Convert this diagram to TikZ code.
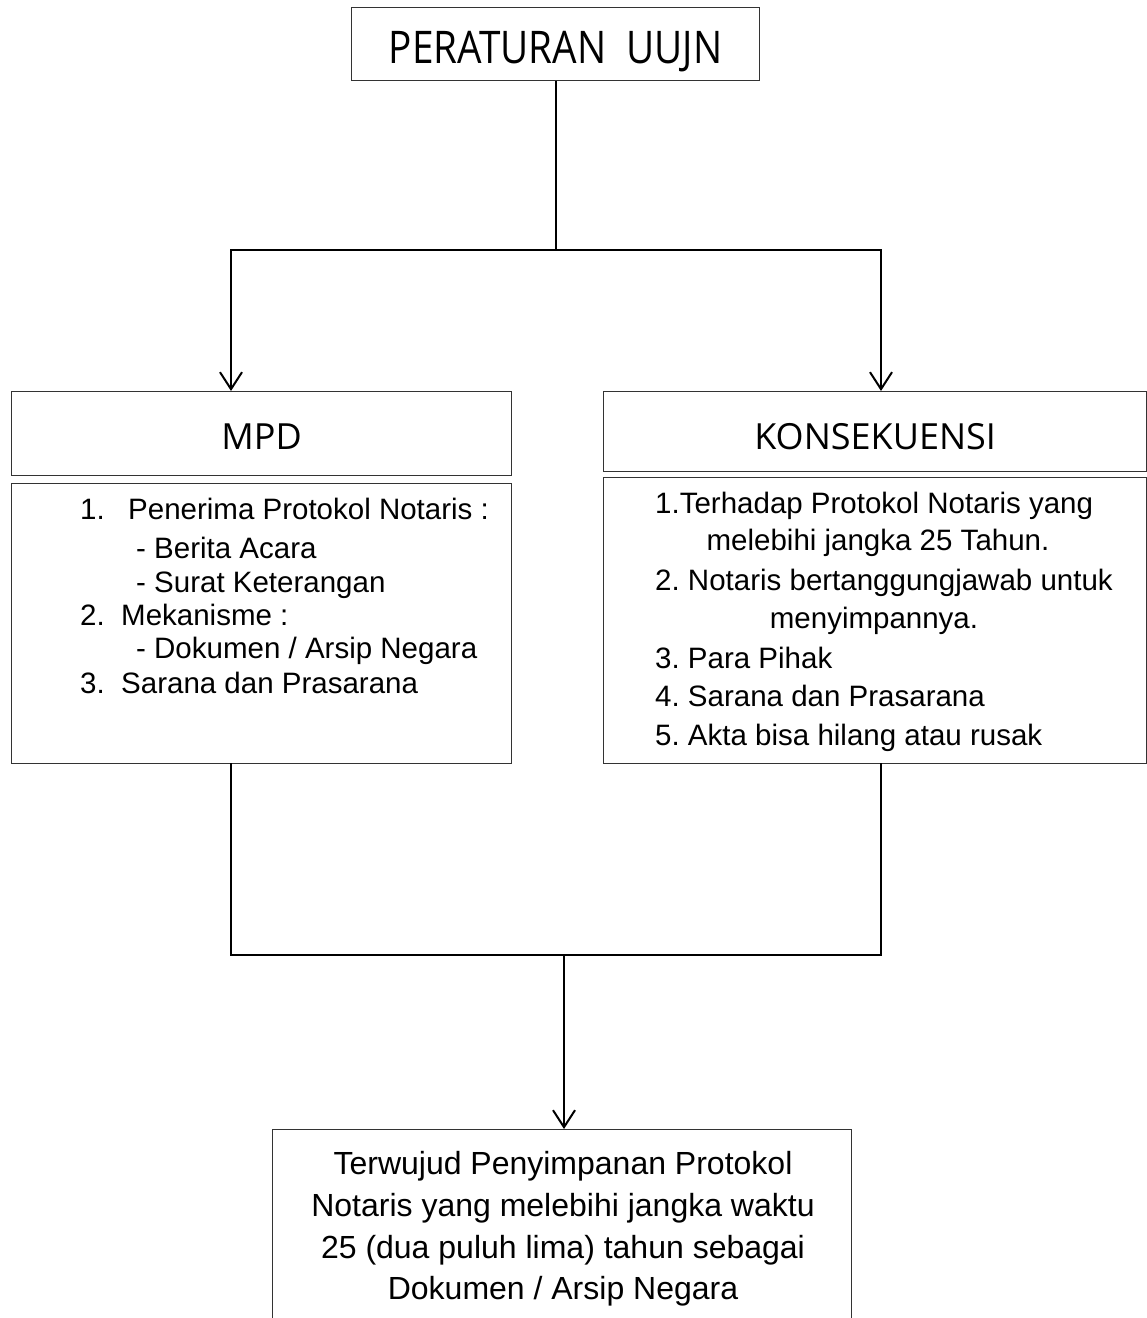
\documentclass[tikz,border=0pt]{standalone}
\usepackage{fontspec}
\setmainfont{Liberation Sans}
\newfontfamily\headfont{Open Sans}
\newfontfamily\titlefont[FakeStretch=0.86]{Open Sans}
\usetikzlibrary{arrows.meta}
\frenchspacing
\begin{document}
\begin{tikzpicture}[x=1pt,y=-1pt,
  box/.style={draw=black!80, line width=1.3pt, inner sep=0pt},
  conn/.style={line width=2pt, draw=black},
  arr/.style={conn, -{Straight Barb[length=17pt,width=22pt,line width=2pt]}},
  head/.style={font=\titlefont\fontsize{45}{54}\selectfont},
  sub/.style={font=\headfont\fontsize{36}{43}\selectfont},
  body/.style={font=\frenchspacing\fontsize{29.5}{34}\selectfont, inner sep=0pt},
  big/.style={font=\frenchspacing\fontsize{32}{42}\selectfont, inner sep=0pt}]
\useasboundingbox (0,0) rectangle (1147,1318);
\fill[white] (0,0) rectangle (1147,1318);
% boxes
\node[box, minimum width=408, minimum height=73, anchor=north west] (top) at (351,7) {};
\node[head, anchor=base] (toptxt) at ([yshift=-19pt]top.center) {PERATURAN\ \ UUJN};
\node[box, minimum width=500, minimum height=84, anchor=north west] (mpdh) at (11,391) {};
\node[sub, anchor=base] (mpdtxt) at ([yshift=-16pt]mpdh.center) {MPD};
\node[box, minimum width=500, minimum height=280, anchor=north west] (mpdb) at (11,483) {};
\node[box, minimum width=543, minimum height=80, anchor=north west] (konh) at (603,391) {};
\node[sub, anchor=base] (kontxt) at ([yshift=-18pt]konh.center) {KONSEKUENSI};
\node[box, minimum width=543, minimum height=286, anchor=north west] (konb) at (603,477) {};
\node[box, minimum width=579, minimum height=220, anchor=north west] (res) at (272,1129) {};
% MPD list
\node[body, anchor=base west] (m1n) at (80,519) {1.};
\node[body, anchor=base west] (m1) at (128,519) {Penerima Protokol Notaris :};
\node[body, anchor=base west] (m1a) at (136,558) {- Berita Acara};
\node[body, anchor=base west] (m1b) at (136,592) {- Surat Keterangan};
\node[body, anchor=base west] (m2n) at (80,625) {2.};
\node[body, anchor=base west] (m2) at (121,625) {Mekanisme :};
\node[body, anchor=base west] (m2a) at (136,658) {- Dokumen / Arsip Negara};
\node[body, anchor=base west] (m3n) at (80,693) {3.};
\node[body, anchor=base west] (m3) at (121,693) {Sarana dan Prasarana};
% KONSEKUENSI list
\node[body, anchor=base west] (k1) at (655,513) {1.Terhadap Protokol Notaris yang};
\node[body, anchor=base] (k1b) at (878,550) {melebihi jangka 25 Tahun.};
\node[body, anchor=base west] (k2) at (655,590) {2. Notaris bertanggungjawab untuk};
\node[body, anchor=base] (k2b) at (874,628) {menyimpannya.};
\node[body, anchor=base west] (k3) at (655,668) {3. Para Pihak};
\node[body, anchor=base west] (k4) at (655,706) {4. Sarana dan Prasarana};
\node[body, anchor=base west] (k5) at (655,745) {5. Akta bisa hilang atau rusak};
% result text
\node[big, anchor=base] (r1) at (563,1174) {Terwujud Penyimpanan Protokol};
\node[big, anchor=base] (r2) at (563,1216) {Notaris yang melebihi jangka waktu};
\node[big, anchor=base] (r3) at (563,1258) {25 (dua puluh lima) tahun sebagai};
\node[big, anchor=base] (r4) at (563,1299) {Dokumen / Arsip Negara};
% connectors
\coordinate (split) at (top.south |- 0,250);
\coordinate (aL) at (231,391);
\coordinate (aR) at (881,391);
\draw[conn] (top.south) -- (split);
\draw[arr] (split) -| (aL);
\draw[arr] (split) -| (aR);
\coordinate (bL) at (231,763);
\coordinate (bR) at (881,763);
\coordinate (merge) at (564,955);
\draw[conn] (bL) |- (merge);
\draw[conn] (bR) |- (merge);
\draw[arr] (merge) -- (merge |- res.north);
\end{tikzpicture}
\end{document}
